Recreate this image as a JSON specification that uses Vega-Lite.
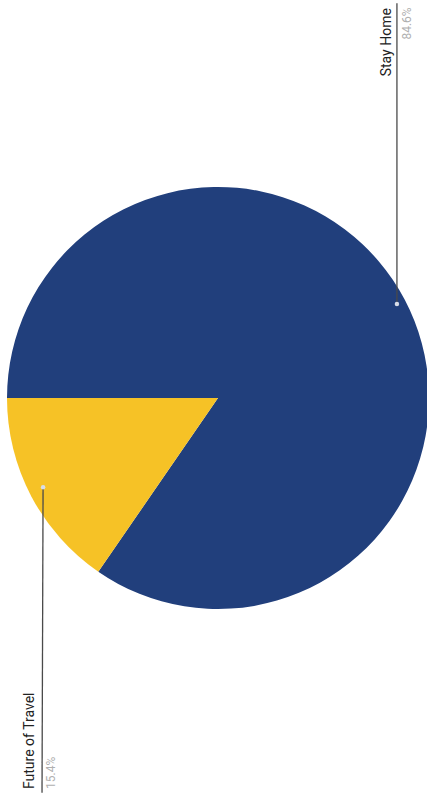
{
  "$schema": "https://vega.github.io/schema/vega-lite/v6.json",
  "width": 427,
  "height": 806,
  "autosize": {"type": "fit", "contains": "padding"},
  "padding": {"left": 9, "top": 0, "right": 0, "bottom": 10},
  "background": "white",
  "config": {"view": {"stroke": null}},
  "layer": [
    {
      "data": {"values": [
        {"label": "Stay Home", "pct": 84.6, "ord": 1},
        {"label": "Future of Travel", "pct": 15.4, "ord": 2}
      ]},
      "mark": {"type": "arc", "outerRadius": 211},
      "encoding": {
        "theta": {"field": "pct", "type": "quantitative", "stack": true, "scale": {"range": [-1.5708, 4.7124]}},
        "order": {"field": "ord", "type": "quantitative"},
        "color": {"field": "label", "type": "nominal", "legend": null,
          "scale": {"domain": ["Stay Home", "Future of Travel"], "range": ["#213f7c", "#f6c226"]}}
      }
    },
    {
      "data": {"values": [
        {"label": "Stay Home", "x": 0.848, "y": 0.45},
        {"label": "Stay Home", "x": 0.848, "y": 1.89},
        {"label": "Future of Travel", "x": -0.829, "y": -0.427},
        {"label": "Future of Travel", "x": -0.834, "y": -1.89}
      ]},
      "mark": {"type": "line", "color": "#4a4a4a", "strokeWidth": 1.3, "clip": false},
      "encoding": {
        "x": {"field": "x", "type": "quantitative", "scale": {"domain": [-0.9905, 0.9905]}, "axis": null},
        "y": {"field": "y", "type": "quantitative", "scale": {"domain": [-1.8863, 1.8863]}, "axis": null},
        "detail": {"field": "label"}
      }
    },
    {
      "data": {"values": [
        {"label": "Stay Home", "x": 0.848, "y": 0.45},
        {"label": "Future of Travel", "x": -0.829, "y": -0.427}
      ]},
      "mark": {"type": "point", "filled": true, "color": "#d8dde8", "size": 20, "opacity": 1},
      "encoding": {
        "x": {"field": "x", "type": "quantitative", "scale": {"domain": [-0.9905, 0.9905]}, "axis": null},
        "y": {"field": "y", "type": "quantitative", "scale": {"domain": [-1.8863, 1.8863]}, "axis": null}
      }
    },
    {
      "data": {"values": [
        {"text": "Stay Home", "x": 0.82, "y": 1.54},
        {"text": "Future of Travel", "x": -0.872, "y": -1.872}
      ]},
      "mark": {"type": "text", "angle": 270, "align": "left", "baseline": "alphabetic", "font": "Roboto", "fontSize": 14, "color": "#222222"},
      "encoding": {
        "x": {"field": "x", "type": "quantitative", "scale": {"domain": [-0.9905, 0.9905]}, "axis": null},
        "y": {"field": "y", "type": "quantitative", "scale": {"domain": [-1.8863, 1.8863]}, "axis": null},
        "text": {"field": "text"}
      }
    },
    {
      "data": {"values": [
        {"text": "84.6%", "x": 0.872, "y": 1.716},
        {"text": "15.4%", "x": -0.815, "y": -1.872}
      ]},
      "mark": {"type": "text", "angle": 270, "align": "left", "baseline": "top", "font": "Roboto", "fontSize": 12, "color": "#b0b0b0"},
      "encoding": {
        "x": {"field": "x", "type": "quantitative", "scale": {"domain": [-0.9905, 0.9905]}, "axis": null},
        "y": {"field": "y", "type": "quantitative", "scale": {"domain": [-1.8863, 1.8863]}, "axis": null},
        "text": {"field": "text"}
      }
    }
  ]
}
